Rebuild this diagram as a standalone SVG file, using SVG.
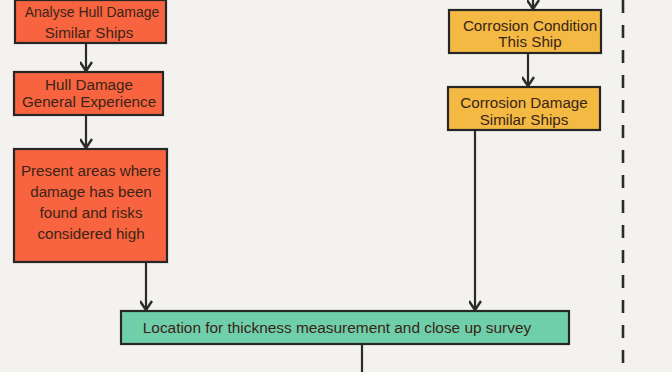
<svg xmlns="http://www.w3.org/2000/svg" width="672" height="372" viewBox="0 0 672 372">
<style>
.bg{fill:#f3f2ee}
.box{stroke:#262626;stroke-width:2.2}
.or{fill:#f7643f}
.ye{fill:#f3b943}
.gr{fill:#6fcfaa}
.t{font-family:"Liberation Sans",Arial,sans-serif;font-size:15.2px;fill:#3a2418;text-anchor:middle}
.s{font-size:14px}
.c{stroke:#2b2b2b;stroke-width:2.2;fill:none}
</style>
<defs>
<marker id="ah" markerUnits="userSpaceOnUse" markerWidth="20" markerHeight="20" viewBox="-10 -12 20 16" refX="0" refY="0" orient="auto-start-reverse">
<path d="M-9,-6 L0,0 L-9,6" fill="none" stroke="#2b2b2b" stroke-width="2.4" stroke-linejoin="round"/>
</marker>
</defs>
<rect class="bg" x="0" y="0" width="672" height="372"/>
<line x1="623" y1="0" x2="623" y2="372" stroke="#2b2b2b" stroke-width="2.6" stroke-dasharray="13 12"/>
<g id="connectors">
<line class="c" x1="86" y1="44" x2="86" y2="71" marker-end="url(#ah)"/>
<line class="c" x1="86" y1="115" x2="86" y2="148" marker-end="url(#ah)"/>
<line class="c" x1="146" y1="262" x2="146" y2="310" marker-end="url(#ah)"/>
<line class="c" x1="475" y1="130" x2="475" y2="310" marker-end="url(#ah)"/>
<line class="c" x1="528" y1="53" x2="528" y2="86" marker-end="url(#ah)"/>
<line class="c" x1="533" y1="-4" x2="533" y2="9" marker-end="url(#ah)"/>
<line class="c" x1="362" y1="344" x2="362" y2="372"/>
</g>
<g id="analyse-hull">
<rect class="box or" x="15" y="0" width="151" height="43"/>
<text class="t s" x="92" y="17">Analyse Hull Damage</text>
<text class="t" x="89" y="38">Similar Ships</text>
</g>
<g id="hull-general">
<rect class="box or" x="14" y="72" width="149" height="43"/>
<text class="t" x="89" y="90">Hull Damage</text>
<text class="t" x="89" y="107">General Experience</text>
</g>
<g id="present-areas">
<rect class="box or" x="14" y="149" width="153" height="113"/>
<text class="t" x="91" y="176">Present areas where</text>
<text class="t" x="91" y="197">damage has been</text>
<text class="t" x="91" y="218">found and risks</text>
<text class="t" x="91" y="239">considered high</text>
</g>
<g id="corrosion-condition">
<rect class="box ye" x="449" y="10" width="152" height="43"/>
<text class="t" x="530" y="31">Corrosion Condition</text>
<text class="t" x="530" y="47">This Ship</text>
</g>
<g id="corrosion-damage">
<rect class="box ye" x="448" y="87" width="152" height="43"/>
<text class="t" x="524" y="108">Corrosion Damage</text>
<text class="t" x="524" y="125">Similar Ships</text>
</g>
<g id="location">
<rect class="box gr" x="121" y="311" width="448" height="33"/>
<text class="t" x="337" y="333" style="font-size:15.4px">Location for thickness measurement and close up survey</text>
</g>
</svg>
